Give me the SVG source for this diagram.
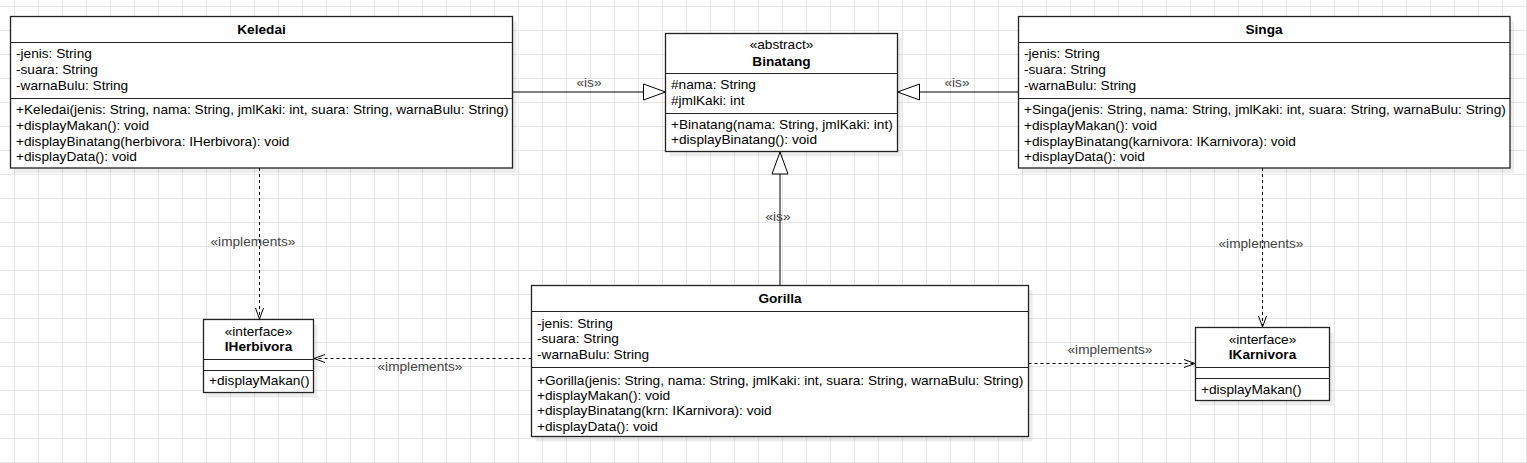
<svg xmlns="http://www.w3.org/2000/svg" width="1527" height="463" viewBox="0 0 1527 463">
<defs>
<pattern id="grid" patternUnits="userSpaceOnUse" x="14" y="6" width="24" height="24">
<path d="M0 0.5 H24 M0.5 0 V24" fill="none" stroke="#e6e6e6" stroke-width="1"/>
</pattern>
<marker id="tri" viewBox="0 0 24 18" refX="23" refY="9" markerWidth="24" markerHeight="18" markerUnits="userSpaceOnUse" orient="auto">
<path d="M1 1 L23 9 L1 17 Z" fill="#fff" stroke="#000" stroke-width="1"/>
</marker>
<marker id="open" viewBox="0 0 13 10" refX="12" refY="5" markerWidth="13" markerHeight="10" markerUnits="userSpaceOnUse" orient="auto">
<path d="M1 1 L12 5 L1 9" fill="none" stroke="#000" stroke-width="1"/>
</marker>
</defs>
<style>
.box{fill:#fff;stroke:#222;stroke-width:1.3}
.sh{fill:#000;fill-opacity:0.07}
.div{stroke:#222;stroke-width:1.2}
.t{font-family:"Liberation Sans",Arial,sans-serif;font-size:13.65px;fill:#000}
.b{font-weight:bold;text-anchor:middle}
.c{text-anchor:middle}
.lbl{font-family:"Liberation Sans",Arial,sans-serif;font-size:13.65px;fill:#444;text-anchor:middle}
.inh{stroke:#000;stroke-width:1;fill:none;marker-end:url(#tri)}
.imp{stroke:#000;stroke-width:1;fill:none;stroke-dasharray:3 3;marker-end:url(#open)}
</style>
<rect width="1527" height="463" fill="#fff"/>
<rect width="1527" height="463" fill="url(#grid)"/>

<g id="connectors">
<path class="inh" d="M513 92 H665.5"/>
<path class="inh" d="M1018.5 92 H897.5"/>
<path class="inh" d="M780 285.5 V152"/>
<path class="imp" d="M259.5 168 V319"/>
<path class="imp" d="M531.5 358.5 H314"/>
<path class="imp" d="M1262.5 168 V327"/>
<path class="imp" d="M1028.5 363.5 H1195"/>
<text class="lbl" x="589" y="87">«is»</text>
<text class="lbl" x="957" y="86.5">«is»</text>
<text class="lbl" x="778" y="220.5">«is»</text>
<text class="lbl" x="253" y="246">«implements»</text>
<text class="lbl" x="420" y="371">«implements»</text>
<text class="lbl" x="1261" y="247.7">«implements»</text>
<text class="lbl" x="1110" y="353.5">«implements»</text>
</g>

<g id="keledai">
<rect class="sh" x="14.5" y="21.5" width="502" height="151.5"/>
<rect class="box" x="10.5" y="16.5" width="502" height="151.5"/>
<line class="div" x1="10.5" y1="42.5" x2="512.5" y2="42.5"/>
<line class="div" x1="10.5" y1="98.5" x2="512.5" y2="98.5"/>
<text class="t b" x="261.5" y="34">Keledai</text>
<text class="t" x="16" y="58.3">-jenis: String</text>
<text class="t" x="16" y="74.3">-suara: String</text>
<text class="t" x="16" y="90.3">-warnaBulu: String</text>
<text class="t" x="16" y="114.3">+Keledai(jenis: String, nama: String, jmlKaki: int, suara: String, warnaBulu: String)</text>
<text class="t" x="16" y="130">+displayMakan(): void</text>
<text class="t" x="16" y="145.6">+displayBinatang(herbivora: IHerbivora): void</text>
<text class="t" x="16" y="161.1">+displayData(): void</text>
</g>

<g id="binatang">
<rect class="sh" x="669.5" y="38.5" width="232" height="118"/>
<rect class="box" x="665.5" y="33.5" width="232" height="118"/>
<line class="div" x1="665.5" y1="73.5" x2="897.5" y2="73.5"/>
<line class="div" x1="665.5" y1="113.5" x2="897.5" y2="113.5"/>
<text class="t c" x="781.5" y="48.8">«abstract»</text>
<text class="t b" x="781.5" y="65.5">Binatang</text>
<text class="t" x="671" y="89.3">#nama: String</text>
<text class="t" x="671" y="105">#jmlKaki: int</text>
<text class="t" x="671" y="129.3">+Binatang(nama: String, jmlKaki: int)</text>
<text class="t" x="671" y="144">+displayBinatang(): void</text>
</g>

<g id="singa">
<rect class="sh" x="1022.5" y="21.5" width="491.5" height="151.5"/>
<rect class="box" x="1018.5" y="16.5" width="491.5" height="151.5"/>
<line class="div" x1="1018.5" y1="42.5" x2="1510" y2="42.5"/>
<line class="div" x1="1018.5" y1="98.5" x2="1510" y2="98.5"/>
<text class="t b" x="1264" y="34">Singa</text>
<text class="t" x="1024" y="58.3">-jenis: String</text>
<text class="t" x="1024" y="74.3">-suara: String</text>
<text class="t" x="1024" y="90.3">-warnaBulu: String</text>
<text class="t" x="1024" y="114.3">+Singa(jenis: String, nama: String, jmlKaki: int, suara: String, warnaBulu: String)</text>
<text class="t" x="1024" y="130">+displayMakan(): void</text>
<text class="t" x="1024" y="145.6">+displayBinatang(karnivora: IKarnivora): void</text>
<text class="t" x="1024" y="161.1">+displayData(): void</text>
</g>

<g id="gorilla">
<rect class="sh" x="535.5" y="290.5" width="497" height="151"/>
<rect class="box" x="531.5" y="285.5" width="497" height="151"/>
<line class="div" x1="531.5" y1="311.5" x2="1028.5" y2="311.5"/>
<line class="div" x1="531.5" y1="367.5" x2="1028.5" y2="367.5"/>
<text class="t b" x="780" y="303.3">Gorilla</text>
<text class="t" x="537" y="327.7">-jenis: String</text>
<text class="t" x="537" y="343.3">-suara: String</text>
<text class="t" x="537" y="359">-warnaBulu: String</text>
<text class="t" x="537" y="384.7">+Gorilla(jenis: String, nama: String, jmlKaki: int, suara: String, warnaBulu: String)</text>
<text class="t" x="537" y="400">+displayMakan(): void</text>
<text class="t" x="537" y="415">+displayBinatang(krn: IKarnivora): void</text>
<text class="t" x="537" y="430.7">+displayData(): void</text>
</g>

<g id="iherbivora">
<rect class="sh" x="207.5" y="324.5" width="110" height="73"/>
<rect class="box" x="203.5" y="319.5" width="110" height="73"/>
<line class="div" x1="203.5" y1="359.5" x2="313.5" y2="359.5"/>
<line class="div" x1="203.5" y1="370.5" x2="313.5" y2="370.5"/>
<text class="t c" x="258.5" y="335.5">«interface»</text>
<text class="t b" x="258.5" y="350.7">IHerbivora</text>
<text class="t" x="209" y="385">+displayMakan()</text>
</g>

<g id="ikarnivora">
<rect class="sh" x="1199.5" y="332.5" width="134" height="73"/>
<rect class="box" x="1195.5" y="327.5" width="134" height="73"/>
<line class="div" x1="1195.5" y1="367.5" x2="1329.5" y2="367.5"/>
<line class="div" x1="1195.5" y1="378.5" x2="1329.5" y2="378.5"/>
<text class="t c" x="1262.5" y="343.8">«interface»</text>
<text class="t b" x="1262.5" y="359.3">IKarnivora</text>
<text class="t" x="1201" y="394.3">+displayMakan()</text>
</g>
</svg>
